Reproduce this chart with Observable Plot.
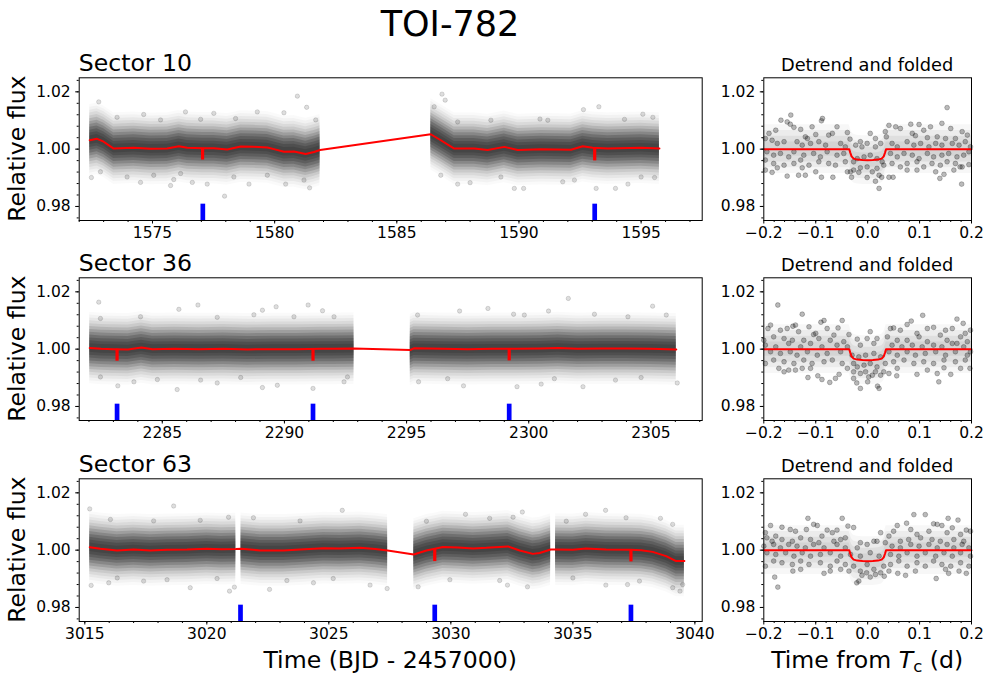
<!DOCTYPE html>
<html><head><meta charset="utf-8">
<script src="https://cdn.jsdelivr.net/npm/d3@7"></script>
<script src="https://cdn.jsdelivr.net/npm/@observablehq/plot@0.6"></script>
<style>
body{margin:0;background:#fff;}
#fig{position:relative;width:990px;height:689px;overflow:hidden;background:#fff;font-family:"DejaVu Sans",sans-serif;}
#fig > svg{position:absolute;}
</style></head><body><div id="fig"></div>
<script>
// ---------------- DATA ----------------
const sectors = ["Sector 10", "Sector 36", "Sector 63"];
const panelTitleRight = "Detrend and folded";
const yTicks = [0.98, 1.00, 1.02];
const foldTicks = [-0.2, -0.1, 0.0, 0.1, 0.2];

// Sector 10
const s10Domain = [1572.0, 1597.5];
const s10Ticks = [1575, 1580, 1585, 1590, 1595];
const s10TrendT = [1572.43,1572.73,1573.00,1573.41,1574.23,1574.92,1575.60,1576.08,1576.42,1577.05,1577.51,1578.06,1578.61,1579.15,1579.70,1579.97,1580.38,1580.79,1581.27,1581.61,1581.86,
                   1586.39,1586.80,1587.35,1588.17,1588.72,1589.40,1589.95,1590.90,1592.13,1592.61,1593.02,1593.63,1595.00,1595.75];
const s10TrendF = [1.0031,1.0036,1.0026,1.0002,1.0005,1.0001,1.0002,1.0010,1.0005,1.0003,1.0003,0.9999,1.0009,1.0008,1.0006,1.0000,0.9991,0.9992,0.9983,0.9990,0.9997,
                   1.0052,1.0031,1.0002,1.0002,0.9997,1.0008,0.9997,1.0000,0.9998,1.0010,1.0005,1.0002,1.0005,1.0002];
const s10SegStart = [1572.43, 1586.39];
const s10SegEnd = [1581.86, 1595.75];
const s10Transits = [1577.06, 1593.10];
const s10DipT = [1577.05, 1593.10];
const s10DipTop = [1.0003, 1.0005];
const s10DipBottom = [0.9962, 0.9959];
const s10Out = [[1572.80,1.0165],[1580.93,1.0185],[1581.31,1.0146],[1576.35,1.0130],[1579.29,1.0130],[1574.64,1.0121],[1577.95,0.9836],[1575.74,0.9873],[1581.43,0.9865],[1572.50,0.9901],[1574.51,0.9884],[1576.63,0.9884],[1578.95,0.9878],[1580.45,0.9878],[1577.24,0.9878],[1573.96,0.9903],
  [1573.55,1.0111],[1575.33,1.0102],[1577.51,1.0125],[1578.40,1.0107],[1580.38,1.0127],[1581.68,1.0102],[1576.97,1.0104],[1572.87,0.9921],[1575.05,0.9909],[1576.15,0.9915],[1578.33,0.9903],[1579.70,0.9909],[1581.20,0.9892],[1575.87,0.9894],
  [1586.85,1.0192],[1586.98,1.0171],[1592.64,1.0138],[1593.27,1.0148],[1595.07,1.0122],[1590.86,1.0105],[1587.49,0.9878],[1589.81,0.9863],[1590.19,0.9863],[1591.79,0.9886],[1593.16,0.9863],[1593.95,0.9863],[1594.46,0.9878],[1588.00,0.9883],
  [1586.53,1.0148],[1587.49,1.0095],[1588.85,1.0101],[1591.18,1.0101],[1594.32,1.0104],[1595.48,1.0111],[1586.80,0.9909],[1589.26,0.9903],[1592.27,0.9892],[1595.00,0.9903],[1595.55,0.9901]];

// Sector 36
const s36Domain = [2281.6, 2307.1];
const s36Ticks = [2285, 2290, 2295, 2300, 2305];
const s36TrendT = [2282.03,2282.50,2283.00,2283.60,2284.15,2284.60,2285.50,2286.50,2287.50,2288.50,2289.50,2290.50,2291.50,2292.00,2292.85,
                   2295.15,2295.30,2296.50,2297.50,2298.50,2299.50,2300.50,2301.20,2302.00,2303.00,2304.00,2305.00,2306.04];
const s36TrendF = [1.0004,1.0001,1.0000,0.9999,1.0006,1.0000,1.0001,1.0000,1.0001,0.9999,1.0000,1.0000,1.0001,1.0001,1.0002,
                   0.9997,1.0003,1.0001,1.0000,1.0001,1.0001,1.0002,1.0004,1.0001,1.0002,1.0002,1.0001,0.9999];
const s36SegStart = [2282.03, 2295.15];
const s36SegEnd = [2292.85, 2306.04];
const s36Transits = [2283.15, 2291.17, 2299.20];
const s36DipT = [2283.15, 2291.17, 2299.20];
const s36DipTop = [1.0000, 1.0001, 1.0001];
const s36DipBottom = [0.9958, 0.9958, 0.9959];
const s36Out = [[2282.40,1.0164],[2286.46,1.0154],[2285.68,1.0139],[2289.66,1.0148],[2290.97,1.0154],[2289.10,1.0136],[2291.56,1.0134],[2285.61,0.9859],[2289.10,0.9866],[2283.18,0.9872],[2291.17,0.9863],[2289.71,0.9874],[2283.84,0.9886],[2287.25,0.9882],[2292.44,0.9886],
  [2282.47,1.0107],[2284.11,1.0113],[2287.25,1.0111],[2288.75,1.0120],[2290.39,1.0113],[2292.03,1.0113],[2282.47,0.9903],[2284.80,0.9894],[2286.57,0.9892],[2288.21,0.9901],[2292.58,0.9903],
  [2301.62,1.0177],[2305.07,1.0150],[2298.33,1.0142],[2300.81,1.0133],[2297.17,1.0133],[2299.38,1.0122],[2302.22,0.9869],[2299.52,0.9869],[2297.33,0.9872],[2295.49,0.9886],[2300.51,0.9878],[2306.08,0.9882],[2303.55,0.9892],
  [2295.45,1.0119],[2299.82,1.0119],[2302.69,1.0122],[2304.06,1.0113],[2305.63,1.0119],[2296.68,0.9897],[2301.05,0.9897],[2304.60,0.9901]];

// Sector 63
const s63Domain = [3014.77, 3040.3];
const s63Ticks = [3015, 3020, 3025, 3030, 3035, 3040];
const s63TrendT = [3015.20,3015.64,3016.32,3017.00,3017.69,3018.37,3019.19,3020.00,3020.60,3021.19,3021.40,3022.19,3023.14,3023.82,3024.78,3025.46,3026.28,3026.90,3027.41,
                   3028.48,3029.00,3029.34,3029.68,3030.30,3030.91,3031.45,3032.34,3032.82,3033.36,3033.64,3034.09,3034.29,3035.00,3035.54,3036.36,3037.38,3037.80,3038.27,3038.82,3039.23,3039.57];
const s63TrendF = [1.0010,1.0005,0.9999,1.0002,0.9999,1.0001,1.0002,1.0005,1.0003,1.0004,1.0005,0.9999,0.9999,1.0002,1.0007,1.0006,1.0008,1.0004,0.9999,
                   0.9985,0.9999,1.0005,1.0011,1.0009,1.0006,1.0008,1.0013,0.9999,0.9987,0.9990,1.0002,1.0002,1.0001,1.0006,1.0002,1.0001,1.0000,0.9994,0.9979,0.9962,0.9962];
const s63SegStart = [3015.20, 3021.40, 3028.48, 3034.29];
const s63SegEnd = [3021.19, 3027.41, 3034.09, 3039.57];
const s63Transits = [3021.38, 3029.34, 3037.38];
const s63DipT = [3029.34, 3037.38];
const s63DipTop = [1.0005, 1.0001];
const s63DipBottom = [0.9960, 0.9959];
const s63Out = [[3015.20,1.0144],[3018.64,1.0154],[3025.55,1.0139],[3020.89,1.0115],[3015.26,0.9877],[3019.32,0.9869],[3020.93,0.9857],[3021.13,0.9871],[3022.57,0.9863],[3015.98,0.9886],[3024.37,0.9886],[3017.41,0.9892],
  [3016.05,1.0107],[3017.82,1.0102],[3019.73,1.0104],[3021.91,1.0113],[3023.82,1.0102],[3016.33,0.9903],[3018.37,0.9897],[3020.42,0.9901],[3023.28,0.9894],[3025.18,0.9901],
  [3036.34,1.0139],[3032.93,1.0133],[3030.60,1.0125],[3038.59,1.0111],[3035.52,1.0125],[3027.39,0.9866],[3028.66,0.9872],[3039.39,0.9857],[3033.14,0.9872],[3032.32,0.9878],[3036.35,0.9878],[3037.24,0.9880],[3026.69,0.9878],[3039.09,0.9869],
  [3029.00,1.0101],[3031.59,1.0111],[3032.55,1.0115],[3034.73,1.0101],[3037.18,1.0113],[3039.09,1.0090],[3029.96,0.9897],[3032.00,0.9894],[3035.00,0.9903],[3037.73,0.9892],[3039.50,0.9880]];

// Density profile of the dense point cloud around the trend (half-width in flux, darkness)
const cloudHalfWidth = [0.0125,0.0115,0.0105,0.0095,0.0085,0.0075,0.0065,0.0055,0.0045,0.0035,0.0025,0.0015];
const cloudDarkness  = [0.02,  0.05,  0.09,  0.14,  0.20,  0.28,  0.37,  0.46,  0.55,  0.62,  0.68,  0.72];
// Density of the folded points around the model
const foldHalfWidth = [0.0085,0.0065,0.0045,0.0025];
const foldDarkness  = [0.03,  0.07,  0.12,  0.16];

// Transit model for the folded panels (days from Tc, relative flux)
const modelT = [-0.2,-0.0355,-0.0335,-0.031,-0.027,-0.02,-0.01,0,0.01,0.02,0.027,0.031,0.0335,0.0355,0.2];
const modelF = [1.0,1.0,0.9988,0.9975,0.9967,0.99635,0.9962,0.99615,0.9962,0.99635,0.9967,0.9975,0.9988,1.0,1.0];

// Folded points: [time from Tc in milli-days, flux offset in ppt]
const fold10 = [[153,14.5],[-148,11.9],[-167,10.1],[-87,10.7],[-89,9.9],[-107,7.8],[-59,7.8],[41,8.3],[54,7.8],[83,8.7],[99,8.6],[121,7.8],[143,9.0],[160,7.2],[-177,6.6],[-190,5.5],[-129,6.9],[-142,7.6],[-149,8.7],[-155,9.5],[-120,4.3],[-116,3.7],[-100,5.1],[-75,4.9],[-68,5.5],[-39,5.8],[-34,3.5],[-14,2.6],[5,5.5],[15,3.7],[34,6.1],[36,4.3],[63,7.2],[86,5.5],[92,4.7],[108,6.6],[115,4.0],[134,4.3],[150,3.7],[169,3.7],[182,6.1],[192,4.9],
  [-197,3.7],[-184,3.1],[-174,2.0],[-161,2.6],[-136,2.6],[-126,1.4],[-110,2.0],[-94,2.6],[-81,1.4],[-52,2.0],[-43,0.8],[-23,1.4],[-11,0.8],[-1,2.0],[15,0.8],[25,2.0],[47,2.0],[57,0.8],[76,2.6],[89,1.4],[102,2.0],[118,0.8],[131,2.0],[143,1.4],[163,2.0],[176,1.4],[188,2.6],[198,0.8],
  [-194,-0.9],[-181,-2.1],[-168,-1.5],[-152,-2.7],[-142,-0.9],[-123,-2.1],[-104,-1.5],[-91,-2.7],[-78,-0.9],[-59,-2.1],[-46,-1.5],[-27,-4.4],[-20,-3.3],[-7,-2.7],[5,-2.1],[18,-3.3],[28,-4.4],[44,-1.5],[57,-2.7],[70,-1.5],[86,-2.1],[99,-3.3],[115,-1.5],[127,-2.7],[143,-2.1],[156,-1.5],[172,-2.7],[185,-2.1],[195,-0.9],
  [-197,-3.8],[-181,-5.0],[-161,-5.6],[-142,-5.0],[-129,-3.8],[-113,-5.6],[-94,-4.4],[-75,-5.0],[-62,-5.6],[-43,-4.4],[-33,-7.9],[-27,-7.3],[-17,-8.1],[-14,-6.5],[-1,-6.2],[9,-7.9],[18,-6.7],[31,-5.6],[47,-5.0],[63,-6.2],[76,-5.0],[95,-4.4],[108,-6.2],[124,-5.0],[140,-5.6],[153,-4.4],[169,-5.0],[182,-6.2],[195,-5.4],
  [-197,-7.3],[-184,-8.1],[-155,-9.4],[-133,-9.1],[-120,-9.1],[-100,-7.9],[-89,-9.8],[-67,-9.8],[-39,-7.9],[-31,-9.8],[-1,-9.9],[15,-11.2],[22,-9.1],[27,-9.8],[41,-9.8],[49,-9.8],[76,-7.3],[95,-7.3],[131,-7.9],[139,-10.2],[147,-8.8],[166,-7.3],[178,-6.2],[181,-12.2],[22,-13.7],[-126,-6.5],[-174,-6.5]];

const fold36 = [[-173,15.4],[-126,12.2],[106,11.8],[172,10.5],[-49,10.0],[-84,10.0],[-90,9.4],[84,9.8],[76,8.6],[184,9.0],[-192,7.2],[-187,8.4],[-144,8.0],[-139,8.4],[-113,7.8],[-78,7.2],[-57,7.4],[5,6.1],[44,7.2],[50,7.4],[63,6.6],[115,7.2],[127,7.6],[150,6.6],[163,7.2],[198,6.6],[-168,6.6],[-155,7.2],[-133,6.1],[-104,5.1],[-100,5.5],[-65,4.9],[-36,5.1],[-20,3.5],[-1,3.7],[18,3.7],[38,4.3],[95,5.5],[99,4.3],[140,4.9],[179,4.3],[188,5.5],
  [-200,3.1],[-181,4.3],[-161,3.7],[-145,3.1],[-123,3.1],[-94,3.7],[-72,3.1],[-46,2.6],[-14,1.4],[12,2.0],[57,3.1],[76,3.1],[115,2.6],[153,3.1],[172,2.0],[192,2.6],
  [-197,1.4],[-177,0.8],[-152,2.0],[-129,0.8],[-110,2.0],[-88,0.8],[-59,1.4],[-39,0.8],[47,1.4],[66,0.8],[86,1.4],[105,0.8],[127,1.4],[143,0.8],[163,2.0],[185,0.8],
  [-187,-0.9],[-168,-1.5],[-149,-0.9],[-136,-2.1],[-116,-0.9],[-97,-2.1],[-78,-1.5],[-52,-0.9],[-30,-2.1],[-17,-2.7],[-4,-2.1],[12,-1.5],[25,-2.7],[41,-0.9],[57,-2.1],[76,-0.9],[92,-2.1],[111,-1.5],[131,-0.9],[150,-2.1],[169,-0.9],[192,-2.1],[198,-0.9],
  [-197,-5.0],[-181,-3.8],[-161,-4.4],[-142,-5.0],[-123,-3.8],[-107,-5.0],[-84,-4.4],[-68,-3.8],[-49,-5.0],[-27,-5.0],[-20,-6.2],[-7,-5.6],[5,-5.0],[18,-6.2],[34,-5.0],[50,-4.4],[70,-3.8],[89,-5.0],[108,-4.4],[127,-5.0],[147,-3.8],[169,-4.4],[188,-3.8],
  [-171,-6.7],[-161,-7.9],[-152,-7.3],[-139,-7.3],[-126,-6.7],[-110,-6.7],[-39,-6.7],[-27,-7.9],[-14,-8.5],[-4,-7.9],[9,-9.1],[15,-7.9],[31,-7.9],[41,-8.5],[57,-6.7],[95,-8.8],[115,-7.3],[134,-8.5],[147,-6.5],[160,-8.8],[179,-6.7],[197,-6.7],
  [-115,-9.9],[-96,-9.3],[-88,-10.6],[-73,-11.6],[-62,-10.2],[-55,-8.8],[-27,-10.2],[-21,-11.8],[-14,-13.7],[0,-11.4],[2,-9.7],[19,-12.9],[22,-13.7],[56,-9.3],[137,-11.4],[25,-9.1]];

const fold63 = [[-115,11.1],[-49,11.1],[89,12.4],[111,12.4],[155,11.1],[174,10.5],[-187,8.6],[-165,8.0],[-104,9.0],[-97,8.6],[-78,7.0],[-59,7.0],[-38,8.4],[-27,7.9],[75,9.4],[57,8.6],[127,9.2],[134,9.0],[143,8.6],[190,7.0],[-149,7.2],[-139,6.6],[-197,6.1],[-177,4.9],[-129,4.3],[-118,7.2],[-88,4.9],[-68,6.1],[-43,4.3],[-14,2.6],[12,3.1],[25,6.1],[41,4.9],[50,6.6],[83,7.2],[95,5.5],[118,6.6],[153,6.1],[163,7.8],[179,5.5],[198,6.6],
  [-194,4.3],[-184,3.1],[-165,3.7],[-145,3.1],[-110,3.7],[-94,2.6],[-65,3.1],[-52,3.7],[-1,2.0],[18,3.1],[34,2.6],[63,3.1],[79,3.7],[102,4.3],[124,3.7],[140,3.1],[166,3.7],[185,3.1],
  [-200,1.4],[-181,2.0],[-168,0.8],[-152,2.0],[-136,1.4],[-120,0.8],[-104,2.0],[-84,0.8],[-59,2.0],[-43,0.8],[-20,0.8],[47,1.4],[63,0.8],[83,2.0],[99,1.4],[118,2.0],[134,0.8],[153,2.0],[166,0.8],[182,2.0],[195,0.8],
  [-194,-0.9],[-177,-1.5],[-158,-0.9],[-142,-2.1],[-126,-0.9],[-110,-2.1],[-91,-1.5],[-72,-0.9],[-52,-2.1],[-33,-1.5],[-14,-2.1],[5,-0.9],[22,-2.1],[44,-1.5],[60,-2.1],[76,-0.9],[95,-2.1],[111,-0.9],[131,-2.1],[147,-0.9],[163,-2.1],[179,-0.9],[198,-2.1],
  [-197,-5.6],[-181,-3.8],[-165,-4.4],[-145,-5.0],[-129,-3.8],[-113,-5.0],[-91,-4.4],[-72,-5.6],[-59,-3.8],[-43,-5.0],[-27,-5.6],[-14,-7.3],[-1,-5.0],[12,-6.7],[31,-5.6],[44,-5.0],[60,-3.8],[76,-5.6],[95,-4.4],[111,-5.6],[127,-3.8],[143,-5.0],[160,-5.6],[179,-4.4],[195,-5.6],
  [-179,-9.4],[-173,-12.9],[-144,-7.3],[-129,-6.7],[-84,-8.1],[-72,-7.3],[-52,-6.7],[-21,-11.4],[-17,-10.8],[-11,-8.8],[-2,-7.9],[5,-9.4],[15,-8.5],[25,-7.9],[32,-9.1],[41,-7.3],[58,-8.1],[73,-8.8],[92,-7.3],[132,-9.9],[150,-6.7],[156,-8.1],[176,-7.3],[190,-8.1],[-36,-7.3]];

// ---------------- LAYOUT ----------------
const rowTop = [77.3, 277.3, 478.3];
const frameH = 142.7;
const leftX0 = 78.7, leftX1 = 701.7, rightX0 = 763.3, rightX1 = 971;
const FONT = "DejaVu Sans, sans-serif";
const fig = document.getElementById("fig");

// convert a darkness profile into stacked layers [halfWidth, opacity]
function layers(widths, dark) {
  return widths.map((w, i) => [w, 1 - (1 - dark[i]) / (1 - (i ? dark[i - 1] : 0))]);
}
const bandLayers = layers(cloudHalfWidth, cloudDarkness);
const foldLayers = layers(foldHalfWidth, foldDarkness);

function baseStyle() {
  return {fontFamily: FONT, fontSize: "15.5px", color: "#000", background: "transparent", overflow: "visible"};
}
function yAxes() {
  return [
    Plot.axisY({ticks: d3.range(0.976, 1.0245, 0.004), tickSize: 2, tickFormat: () => "", label: null}),
    Plot.axisY({ticks: yTicks, tickSize: 3.5, tickPadding: 5, tickFormat: d3.format(".2f"), label: null})
  ];
}

function longPanel(row, domain, ticks, trendT, trendF, segS, segE, transits, dipT, dipTop, dipBot, outliers) {
  const trend = trendT.map((t, i) => ({t, f: trendF[i]}));
  const band = trend.map(d => ({...d, seg: segS.findIndex((s, j) => d.t >= s - 1e-6 && d.t <= segE[j] + 1e-6)})).filter(d => d.seg >= 0);
  const dips = dipT.map((t, i) => ({t, top: dipTop[i], bot: dipBot[i]}));
  const outs = outliers.map(([t, f]) => ({t, f}));
  const svgTop = Math.floor(rowTop[row]) - 10;
  const mt = rowTop[row] - svgTop;
  const width = 720;
  const minor = d3.range(Math.ceil(domain[0]), Math.floor(domain[1]) + 1, 1);
  const p = Plot.plot({
    width, height: mt + frameH + 32,
    marginLeft: leftX0, marginRight: width - leftX1, marginTop: mt, marginBottom: 32,
    style: baseStyle(),
    x: {domain},
    y: {domain: [0.9751, 1.0249]},
    marks: [
      ...bandLayers.map(([w, op]) => Plot.areaY(band, {x: "t", y1: d => d.f - w, y2: d => d.f + w, z: "seg", fill: "#000", fillOpacity: op})),
      Plot.dot(outs, {x: "t", y: "f", r: 2.2, fill: "#000", fillOpacity: 0.13, stroke: "#000", strokeOpacity: 0.16, strokeWidth: 0.8}),
      Plot.ruleX(transits, {x: d => d, y1: () => 0.9751, y2: () => 0.9808, stroke: "#0000ff", strokeWidth: 4.7}),
      Plot.line(trend, {x: "t", y: "f", stroke: "#ff0000", strokeWidth: 2}),
      Plot.ruleX(dips, {x: "t", y1: "top", y2: "bot", stroke: "#ff0000", strokeWidth: 3.2}),
      Plot.axisX({ticks: minor, tickSize: 2, tickFormat: () => "", label: null}),
      Plot.axisX({ticks, tickSize: 3.5, tickPadding: 3, tickFormat: d3.format("d"), label: null}),
      ...yAxes(),
      Plot.frame({stroke: "#000", strokeWidth: 1})
    ]
  });
  p.style.left = "0px";
  p.style.top = svgTop + "px";
  fig.appendChild(p);
}

function foldPanel(row, pts) {
  const data = pts.map(([md, ppt]) => ({x: md / 1000, y: 1 + ppt / 1000}));
  const model = modelT.map((x, i) => ({x, y: modelF[i]}));
  const svgTop = Math.floor(rowTop[row]) - 10;
  const mt = rowTop[row] - svgTop;
  const left = 720, width = 270;
  const p = Plot.plot({
    width, height: mt + frameH + 32,
    marginLeft: rightX0 - left, marginRight: left + width - rightX1, marginTop: mt, marginBottom: 32,
    style: baseStyle(),
    x: {domain: [-0.2, 0.2]},
    y: {domain: [0.9751, 1.0249]},
    marks: [
      ...foldLayers.map(([w, op]) => Plot.areaY(model, {x: "x", y1: d => d.y - w, y2: d => d.y + w, fill: "#000", fillOpacity: op})),
      Plot.dot(data, {x: "x", y: "y", r: 2.4, fill: "#000", fillOpacity: 0.27, stroke: "#000", strokeOpacity: 0.3, strokeWidth: 0.8}),
      Plot.line(model, {x: "x", y: "y", stroke: "#ff0000", strokeWidth: 2}),
      Plot.axisX({ticks: d3.range(-0.18, 0.2, 0.02), tickSize: 2, tickFormat: () => "", label: null}),
      Plot.axisX({ticks: foldTicks, tickSize: 3.5, tickPadding: 3, tickFormat: d3.format(".1f"), label: null}),
      ...yAxes(),
      Plot.frame({stroke: "#000", strokeWidth: 1})
    ]
  });
  p.style.left = left + "px";
  p.style.top = svgTop + "px";
  fig.appendChild(p);
}

longPanel(0, s10Domain, s10Ticks, s10TrendT, s10TrendF, s10SegStart, s10SegEnd, s10Transits, s10DipT, s10DipTop, s10DipBottom, s10Out);
longPanel(1, s36Domain, s36Ticks, s36TrendT, s36TrendF, s36SegStart, s36SegEnd, s36Transits, s36DipT, s36DipTop, s36DipBottom, s36Out);
longPanel(2, s63Domain, s63Ticks, s63TrendT, s63TrendF, s63SegStart, s63SegEnd, s63Transits, s63DipT, s63DipTop, s63DipBottom, s63Out);
foldPanel(0, fold10);
foldPanel(1, fold36);
foldPanel(2, fold63);

// ---------------- TEXT OVERLAY ----------------
const ov = d3.select(fig).append("svg").attr("width", 990).attr("height", 689)
  .style("left", "0px").style("top", "0px").style("pointer-events", "none")
  .attr("font-family", FONT).attr("fill", "#000");
ov.append("text").attr("x", 450).attr("y", 35.7).attr("text-anchor", "middle").attr("font-size", 35).text("TOI-782");
sectors.forEach((s, i) => {
  ov.append("text").attr("x", leftX0).attr("y", rowTop[i] - 6.6).attr("font-size", 23.6).text(s);
  ov.append("text").attr("x", (rightX0 + rightX1) / 2).attr("y", rowTop[i] - 6.6).attr("text-anchor", "middle").attr("font-size", 17.8).text(panelTitleRight);
  ov.append("text").attr("transform", `translate(24.5,${rowTop[i] + frameH / 2}) rotate(-90)`).attr("text-anchor", "middle").attr("font-size", 23.6).text("Relative flux");
});
ov.append("text").attr("x", (leftX0 + leftX1) / 2).attr("y", 668).attr("text-anchor", "middle").attr("font-size", 23.6).text("Time (BJD - 2457000)");
const tx = ov.append("text").attr("x", (rightX0 + rightX1) / 2).attr("y", 668).attr("text-anchor", "middle").attr("font-size", 23.6);
tx.append("tspan").text("Time from ");
tx.append("tspan").attr("font-style", "italic").text("T");
tx.append("tspan").attr("font-size", 16.5).attr("dy", 3.5).text("c");
tx.append("tspan").attr("dy", -3.5).text(" (d)");
</script></body></html>
